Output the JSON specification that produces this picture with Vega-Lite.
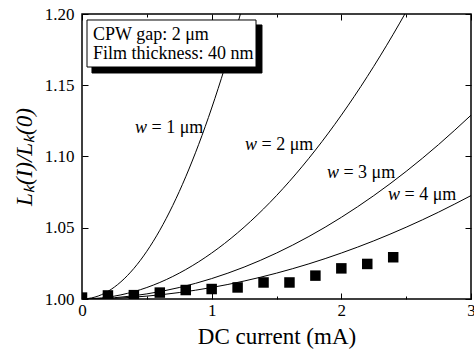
{
  "$schema": "https://vega.github.io/schema/vega-lite/v6.json",
  "width": 389,
  "height": 285,
  "autosize": {"type": "none"},
  "padding": {"left": 82, "top": 14, "right": 3, "bottom": 51},
  "background": "white",
  "config": {
    "view": {"stroke": "black", "strokeWidth": 1.5},
    "axis": {
      "grid": false,
      "domain": false,
      "tickColor": "black",
      "tickWidth": 1,
      "labelFont": "Liberation Serif",
      "labelFontSize": 17,
      "labelColor": "black",
      "labelFlush": false,
      "titleFont": "Liberation Serif",
      "titleColor": "black",
      "titleFontWeight": "normal"
    }
  },
  "datasets": {
    "curves": [
      {"w": 1, "I": 0, "L": 1},
      {"w": 1, "I": 0.1, "L": 1.00134},
      {"w": 1, "I": 0.2, "L": 1.00536},
      {"w": 1, "I": 0.3, "L": 1.01206},
      {"w": 1, "I": 0.4, "L": 1.02144},
      {"w": 1, "I": 0.5, "L": 1.0335},
      {"w": 1, "I": 0.6, "L": 1.04824},
      {"w": 1, "I": 0.7, "L": 1.06566},
      {"w": 1, "I": 0.8, "L": 1.08576},
      {"w": 1, "I": 0.9, "L": 1.10854},
      {"w": 1, "I": 1.0, "L": 1.134},
      {"w": 1, "I": 1.1, "L": 1.16214},
      {"w": 1, "I": 1.2, "L": 1.19296},
      {"w": 1, "I": 1.3, "L": 1.22646},
      {"w": 2, "I": 0, "L": 1},
      {"w": 2, "I": 0.2, "L": 1.00129},
      {"w": 2, "I": 0.4, "L": 1.00516},
      {"w": 2, "I": 0.6, "L": 1.01161},
      {"w": 2, "I": 0.8, "L": 1.02064},
      {"w": 2, "I": 1.0, "L": 1.03225},
      {"w": 2, "I": 1.2, "L": 1.04644},
      {"w": 2, "I": 1.4, "L": 1.06321},
      {"w": 2, "I": 1.6, "L": 1.08256},
      {"w": 2, "I": 1.8, "L": 1.10449},
      {"w": 2, "I": 2.0, "L": 1.129},
      {"w": 2, "I": 2.2, "L": 1.15609},
      {"w": 2, "I": 2.4, "L": 1.18576},
      {"w": 2, "I": 2.6, "L": 1.21801},
      {"w": 3, "I": 0, "L": 1},
      {"w": 3, "I": 0.25, "L": 1.0009},
      {"w": 3, "I": 0.5, "L": 1.00358},
      {"w": 3, "I": 0.75, "L": 1.00806},
      {"w": 3, "I": 1.0, "L": 1.01433},
      {"w": 3, "I": 1.25, "L": 1.02239},
      {"w": 3, "I": 1.5, "L": 1.03224},
      {"w": 3, "I": 1.75, "L": 1.04388},
      {"w": 3, "I": 2.0, "L": 1.05732},
      {"w": 3, "I": 2.25, "L": 1.07254},
      {"w": 3, "I": 2.5, "L": 1.08956},
      {"w": 3, "I": 2.75, "L": 1.10837},
      {"w": 3, "I": 3.0, "L": 1.12897},
      {"w": 4, "I": 0, "L": 1},
      {"w": 4, "I": 0.25, "L": 1.0005},
      {"w": 4, "I": 0.5, "L": 1.00202},
      {"w": 4, "I": 0.75, "L": 1.00453},
      {"w": 4, "I": 1.0, "L": 1.00806},
      {"w": 4, "I": 1.25, "L": 1.0126},
      {"w": 4, "I": 1.5, "L": 1.01814},
      {"w": 4, "I": 1.75, "L": 1.02468},
      {"w": 4, "I": 2.0, "L": 1.03225},
      {"w": 4, "I": 2.25, "L": 1.0408},
      {"w": 4, "I": 2.5, "L": 1.05038},
      {"w": 4, "I": 2.75, "L": 1.06095},
      {"w": 4, "I": 3.0, "L": 1.07256}
    ],
    "measured": [
      {"I": 0, "L": 1.001},
      {"I": 0.2, "L": 1.0025},
      {"I": 0.4, "L": 1.0027},
      {"I": 0.6, "L": 1.0045},
      {"I": 0.8, "L": 1.0063},
      {"I": 1.0, "L": 1.007},
      {"I": 1.2, "L": 1.0081},
      {"I": 1.4, "L": 1.0116},
      {"I": 1.6, "L": 1.0116},
      {"I": 1.8, "L": 1.0164},
      {"I": 2.0, "L": 1.0215},
      {"I": 2.2, "L": 1.0246},
      {"I": 2.4, "L": 1.0293}
    ],
    "box": [
      {"part": "shadow", "x1": 0.077, "x2": 1.388, "y1": 1.1923, "y2": 1.1586},
      {"part": "box", "x1": 0.0386, "x2": 1.342, "y1": 1.1958, "y2": 1.1628}
    ],
    "labels": [
      {"I": 0.409, "L": 1.1165, "w": "w", "rest": "= 1 μm"},
      {"I": 1.257, "L": 1.1046, "w": "w", "rest": "= 2 μm"},
      {"I": 1.889, "L": 1.0849, "w": "w", "rest": "= 3 μm"},
      {"I": 2.36, "L": 1.0695, "w": "w", "rest": "= 4 μm"}
    ],
    "boxtext": [
      {"I": 0.085, "L": 1.1818, "t": "CPW gap: 2 μm"},
      {"I": 0.085, "L": 1.1684, "t": "Film thickness: 40 nm"}
    ]
  },
  "layer": [
    {
      "data": {"name": "curves"},
      "mark": {"type": "line", "color": "black", "strokeWidth": 1, "clip": true, "interpolate": "monotone"},
      "encoding": {
        "x": {"field": "I", "type": "quantitative", "scale": {"domain": [0, 3], "nice": false},
          "axis": {"orient": "bottom", "values": [0, 1, 2, 3], "format": "d", "tickSize": -6, "labelPadding": 9, "title": "DC current (mA)", "titleFontSize": 23, "titlePadding": 7}},
        "y": {"field": "L", "type": "quantitative", "scale": {"domain": [1, 1.2], "nice": false, "zero": false},
          "axis": {"orient": "left", "values": [1, 1.05, 1.1, 1.15, 1.2], "format": ".2f", "tickSize": -6, "labelPadding": 14, "title": "Lₖ(I)/Lₖ(0)", "titleFontSize": 23, "titleFontStyle": "italic", "titlePadding": 8}},
        "detail": {"field": "w", "type": "nominal"}
      }
    },
    {
      "data": {"name": "measured"},
      "mark": {"type": "square", "size": 110, "color": "black", "opacity": 1, "filled": true, "clip": true},
      "encoding": {
        "x": {"field": "I", "type": "quantitative", "scale": {"domain": [0, 3], "nice": false},
          "axis": {"orient": "bottom", "values": [0.5, 1.5, 2.5], "labels": false, "tickSize": -3, "title": null}},
        "y": {"field": "L", "type": "quantitative", "scale": {"domain": [1, 1.2], "nice": false, "zero": false},
          "axis": {"orient": "right", "values": [1, 1.05, 1.1, 1.15, 1.2], "labels": false, "tickSize": -6, "title": null}}
      }
    },
    {
      "data": {"name": "box"},
      "mark": {"type": "rect", "stroke": "black", "strokeWidth": 1},
      "encoding": {
        "x": {"field": "x1", "type": "quantitative", "scale": {"domain": [0, 3], "nice": false},
          "axis": {"orient": "top", "values": [0, 1, 2, 3], "labels": false, "tickSize": -6, "title": null}},
        "x2": {"field": "x2"},
        "y": {"field": "y1", "type": "quantitative", "scale": {"domain": [1, 1.2], "nice": false, "zero": false}, "axis": null},
        "y2": {"field": "y2"},
        "fill": {"field": "part", "type": "nominal", "scale": {"domain": ["shadow", "box"], "range": ["black", "white"]}, "legend": null}
      }
    },
    {
      "data": {"name": "labels"},
      "mark": {"type": "text", "font": "Liberation Serif", "fontSize": 18, "fontStyle": "italic", "align": "left", "baseline": "alphabetic", "color": "black"},
      "encoding": {
        "x": {"field": "I", "type": "quantitative", "scale": {"domain": [0, 3], "nice": false},
          "axis": {"orient": "top", "values": [0.5, 1.5, 2.5], "labels": false, "tickSize": -3, "title": null}},
        "y": {"field": "L", "type": "quantitative", "scale": {"domain": [1, 1.2], "nice": false, "zero": false}, "axis": null},
        "text": {"field": "w"}
      }
    },
    {
      "data": {"name": "labels"},
      "mark": {"type": "text", "font": "Liberation Serif", "fontSize": 18, "align": "left", "baseline": "alphabetic", "dx": 16.5, "color": "black"},
      "encoding": {
        "x": {"field": "I", "type": "quantitative", "scale": {"domain": [0, 3], "nice": false}, "axis": null},
        "y": {"field": "L", "type": "quantitative", "scale": {"domain": [1, 1.2], "nice": false, "zero": false}, "axis": null},
        "text": {"field": "rest"}
      }
    },
    {
      "data": {"name": "boxtext"},
      "mark": {"type": "text", "font": "Liberation Serif", "fontSize": 18, "align": "left", "baseline": "alphabetic", "color": "black"},
      "encoding": {
        "x": {"field": "I", "type": "quantitative", "scale": {"domain": [0, 3], "nice": false}, "axis": null},
        "y": {"field": "L", "type": "quantitative", "scale": {"domain": [1, 1.2], "nice": false, "zero": false}, "axis": null},
        "text": {"field": "t"}
      }
    }
  ],
  "resolve": {"axis": {"x": "independent", "y": "independent"}}
}
